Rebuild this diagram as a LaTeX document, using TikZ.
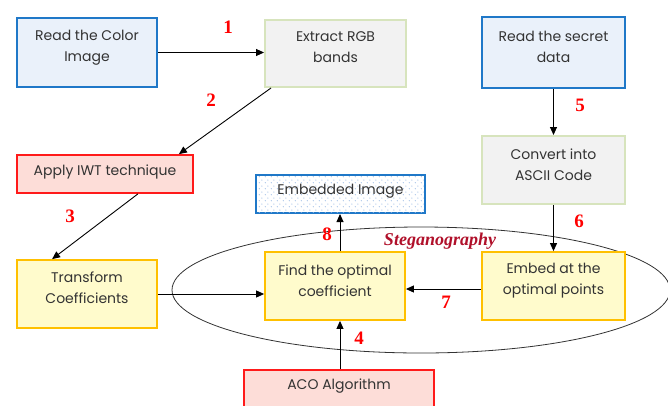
\documentclass[tikz,border=0pt]{standalone}
\usepackage{fontspec}
\setmainfont{Poppins}
\newfontfamily\numfont{Liberation Serif}
\usetikzlibrary{arrows.meta,patterns,shapes.geometric}
\definecolor{bluebd}{HTML}{1F78C8}
\definecolor{bluefl}{HTML}{EAF1FA}
\definecolor{greenbd}{HTML}{D7E4BD}
\definecolor{greenfl}{HTML}{F2F2F2}
\definecolor{redbd}{HTML}{FF1A1A}
\definecolor{redfl}{HTML}{FDDDD8}
\definecolor{yelbd}{HTML}{FFC000}
\definecolor{yelfl}{HTML}{FFFBCC}
\definecolor{txt}{HTML}{333333}
\definecolor{steg}{HTML}{B0102A}
\definecolor{dotc}{HTML}{9DBDE6}
\pgfdeclarepatternformonly{sparsedots}{\pgfpointorigin}{\pgfpoint{6pt}{6pt}}{\pgfpoint{6pt}{6pt}}{%
  \pgfpathcircle{\pgfpoint{1.5pt}{1.5pt}}{0.7pt}%
  \pgfpathcircle{\pgfpoint{4.5pt}{4.5pt}}{0.7pt}%
  \pgfusepath{fill}}
\tikzset{
  x=1pt,y=-1pt,
  boxbase/.style={rectangle,inner sep=0pt},
  boxtext/.style={inner sep=0pt,align=center,text=txt,font=\fontsize{14}{21}\selectfont},
  bluebox/.style={boxbase,draw=bluebd,line width=2.2pt,fill=bluefl},
  greenbox/.style={boxbase,draw=greenbd,line width=2pt,fill=greenfl},
  redbox/.style={boxbase,draw=redbd,line width=1.8pt,fill=redfl},
  yelbox/.style={boxbase,draw=yelbd,line width=1.8pt,fill=yelfl},
  conn/.style={draw=black,line width=0.9pt,-{Triangle[length=8pt,width=7pt]}},
  numlab/.style={text=red,font=\fontsize{19}{19}\selectfont\numfont\bfseries},
}
\begin{document}
\begin{tikzpicture}
\useasboundingbox (0,0) rectangle (668,405);
\clip (0,0) rectangle (668,405);
% ellipse
\node[draw=black!80,line width=0.8pt,ellipse,minimum width=498pt,minimum height=126pt,inner sep=0pt] (ell) at (421,290) {};
% boxes
\node[bluebox,minimum width=140pt,minimum height=69pt] (color) at (87,52.5) {};
\node[boxtext] (colort) at (87,47.5) {Read the Color\\Image};
\node[greenbox,minimum width=141pt,minimum height=67pt] (rgb) at (335.5,53.5) {};
\node[boxtext] (rgbt) at (335.5,47.5) {Extract RGB\\bands};
\node[bluebox,minimum width=143pt,minimum height=71pt] (secret) at (553.5,52.5) {};
\node[boxtext] (secrett) at (553.5,46.5) {Read the secret\\data};
\node[greenbox,minimum width=143pt,minimum height=68pt] (ascii) at (553.5,170) {};
\node[boxtext] (asciit) at (553.5,164.5) {Convert into\\ASCII Code};
\node[redbox,minimum width=176pt,minimum height=38pt] (iwt) at (105,174) {};
\node[boxtext] (iwtt) at (105,172) {Apply IWT technique};
\node[boxbase,draw=bluebd,line width=2pt,fill=white,minimum width=169pt,minimum height=38pt] (embbg) at (340.5,194) {};
\node[boxbase,pattern=sparsedots,pattern color=dotc,minimum width=167pt,minimum height=36pt] (emb) at (340.5,194) {};
\node[boxtext] (embt) at (340.5,191) {Embedded Image};
\node[yelbox,minimum width=140pt,minimum height=68pt] (trans) at (87,294) {};
\node[boxtext] (transt) at (87,287.5) {Transform\\Coefficients};
\node[yelbox,minimum width=140pt,minimum height=68pt] (find) at (335,286) {};
\node[boxtext] (findt) at (335,280.5) {Find the optimal\\coefficient};
\node[yelbox,minimum width=143pt,minimum height=68pt] (embed) at (553.5,286) {};
\node[boxtext] (embedt) at (553.5,280.5) {Embed at the\\optimal points};
\node[redbox,minimum width=190pt,minimum height=50pt] (aco) at (339,395) {};
\node[boxtext] (acot) at (339,386) {ACO Algorithm};
\coordinate (fn) at ([xshift=5pt]find.north);
\coordinate (fs) at ([xshift=5pt]find.south);
% connectors
\draw[conn] (color.east) -- (rgb.west |- color.east);
\draw[conn] ([xshift=7pt]rgb.south west) -- ([xshift=-15pt]iwt.north east);
\draw[conn] ([xshift=-56pt]iwt.south east) -- ([xshift=36pt]trans.north west);
\draw[conn] (trans.east) -- (find.west |- trans.east);
\draw[conn] (secret.south -| ascii.north) -- (ascii.north);
\draw[conn] (ascii.south) -- (embed.north -| ascii.south);
\draw[conn] ([yshift=-3pt]embed.west) -- ([yshift=-3pt]find.east);
\draw[conn] (fn) -- (fn |- embbg.south);
\draw[conn] (fs |- aco.north) -- (fs);
% labels
\node[numlab] (l1) at (228,27) {1};
\node[numlab] (l2) at (211,100) {2};
\node[numlab] (l3) at (70,216) {3};
\node[numlab] (l4) at (359,338) {4};
\node[numlab] (l5) at (580,105) {5};
\node[numlab] (l6) at (579,221) {6};
\node[numlab] (l7) at (446,302) {7};
\node[numlab] (l8) at (327,234) {8};
\node[text=steg,font=\fontsize{18}{18}\selectfont\numfont\bfseries\itshape] (stg) at (440,241) {Steganography};
\end{tikzpicture}
\end{document}
